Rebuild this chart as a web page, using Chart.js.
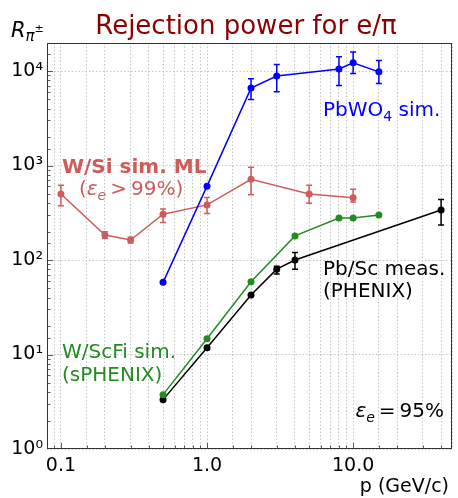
<!DOCTYPE html>
<html>
<head>
<meta charset="utf-8">
<script src="https://cdn.jsdelivr.net/npm/chart.js@4/dist/chart.umd.min.js"></script>
<style>
  body { margin: 0; background: #fff; }
  canvas { display: block; }
</style>
</head>
<body>
<canvas id="myChart" width="458" height="498"></canvas>
<script>
// PbWO4 sim.
const pbwo4X = [0.5, 1, 2, 3, 8, 10, 15];
const pbwo4Y = [58, 605, 6600, 8850, 10500, 12200, 9800];
const pbwo4Lo = [null, null, 5000, 6050, 7050, 9400, 7400];
const pbwo4Hi = [null, null, 8300, 11700, 14200, 15900, 12900];

// W/Si sim. ML
const wsiX = [0.1, 0.2, 0.3, 0.5, 1, 2, 5, 10];
const wsiY = [500, 184, 163, 305, 383, 714, 500, 455];
const wsiLo = [376, 170, 151, 250, 311, 490, 400, 410];
const wsiHi = [620, 199, 174, 346, 460, 960, 620, 560];

// W/ScFi sim. (sPHENIX)
const scfiX = [0.5, 1, 2, 4, 8, 10, 15];
const scfiY = [3.76, 14.7, 59, 180, 278, 278, 299];

// Pb/Sc meas. (PHENIX)
const pbscX = [0.5, 1, 2, 3, 4, 40];
const pbscY = [3.33, 11.8, 42.6, 80, 100, 338];
const pbscLo = [null, null, null, 71, 80, 235];
const pbscHi = [null, null, null, 86, 120, 437];

const xTickLabels = {'0.1': '0.1', '1': '1.0', '10': '10.0'};
const yTickLabels = {'1': '10\u2070', '10': '10\u00b9', '100': '10\u00b2', '1000': '10\u00b3', '10000': '10\u2074'};

const FONT = "'DejaVu Sans', sans-serif";

function pts(xs, ys) {
  return xs.map((x, i) => ({x: x, y: ys[i]}));
}

function isDecade(v) {
  const l = Math.log10(v);
  return Math.abs(l - Math.round(l)) < 1e-9;
}

function series(label, xs, ys, color, lo, hi) {
  return {
    label: label,
    data: pts(xs, ys),
    showLine: true,
    borderColor: color,
    backgroundColor: color,
    borderWidth: 1.5,
    pointRadius: 3.5,
    pointBorderWidth: 0,
    errLo: lo,
    errHi: hi,
  };
}

// draw a run of text pieces (for the little math bits)
function richText(c, x, y, parts, color, align) {
  let w = 0;
  parts.forEach(p => { c.font = p[1]; w += c.measureText(p[0]).width; });
  let cx = align === 'right' ? x - w : (align === 'center' ? x - w / 2 : x);
  c.fillStyle = color;
  c.textAlign = 'left';
  c.textBaseline = 'alphabetic';
  parts.forEach(p => {
    c.font = p[1];
    c.fillText(p[0], cx, y + (p[2] || 0));
    cx += c.measureText(p[0]).width;
  });
}

const errorBars = {
  id: 'errorBars',
  afterDatasetsDraw(chart) {
    const c = chart.ctx;
    const xs = chart.scales.x, ys = chart.scales.y;
    chart.data.datasets.forEach(ds => {
      if (!ds.errLo) return;
      c.save();
      c.strokeStyle = ds.borderColor;
      c.lineWidth = 1.5;
      ds.data.forEach((p, i) => {
        if (ds.errLo[i] == null) return;
        const px = xs.getPixelForValue(p.x);
        const y1 = ys.getPixelForValue(ds.errLo[i]);
        const y2 = ys.getPixelForValue(ds.errHi[i]);
        c.beginPath();
        c.moveTo(px, y1); c.lineTo(px, y2);
        c.moveTo(px - 3, y1); c.lineTo(px + 3, y1);
        c.moveTo(px - 3, y2); c.lineTo(px + 3, y2);
        c.stroke();
      });
      c.restore();
    });
  }
};

const frameAndText = {
  id: 'frameAndText',
  afterDraw(chart) {
    const c = chart.ctx;
    const a = chart.chartArea;
    const xs = chart.scales.x, ys = chart.scales.y;
    c.save();
    // inward ticks
    c.strokeStyle = '#333';
    c.lineWidth = 0.8;
    xs.ticks.forEach(t => {
      if (t.value <= xs.min || t.value >= xs.max) return;
      const px = Math.round(xs.getPixelForValue(t.value)) + 0.5;
      const len = isDecade(t.value) ? 6 : 3.5;
      c.beginPath(); c.moveTo(px, a.bottom); c.lineTo(px, a.bottom - len); c.stroke();
    });
    ys.ticks.forEach(t => {
      if (t.value <= ys.min || t.value >= ys.max) return;
      const py = Math.round(ys.getPixelForValue(t.value)) + 0.5;
      const len = isDecade(t.value) ? 6 : 3.5;
      c.beginPath(); c.moveTo(a.left, py); c.lineTo(a.left + len, py); c.stroke();
    });
    // frame
    c.lineWidth = 1;
    c.strokeRect(a.left + 0.5, a.top + 0.5, a.right - a.left - 1, a.bottom - a.top - 1);

    // title and axis labels
    c.font = '26px ' + FONT;
    c.fillStyle = '#8b0000';
    c.textAlign = 'center';
    c.textBaseline = 'alphabetic';
    c.fillText('Rejection power for e/\u03c0', 246, 34);

    richText(c, 11, 37, [
      ['R', 'italic 21px ' + FONT],
      ['\u03c0', 'italic 15px ' + FONT, 4],
      ['\u00b1', '11px ' + FONT, -5],
    ], '#000', 'left');

    c.font = '19px ' + FONT;
    c.fillStyle = '#000';
    c.textAlign = 'right';
    c.fillText('p (GeV/c)', 449, 492);

    // annotations
    const f = '20px ' + FONT;
    const fi = 'italic 20px ' + FONT;
    const fs = 'italic 14px ' + FONT;
    const thin = '\u2009';
    richText(c, 323, 116, [['PbWO', f], ['4', '14px ' + FONT, 5], [' sim.', f]], '#0000ff', 'left');
    richText(c, 62, 173, [['W/Si sim. ML', 'bold 20px ' + FONT]], '#cd5c5c', 'left');
    richText(c, 79, 195, [['(', f], ['\u03b5', fi], ['e', fs, 5], [thin + '>' + thin, f], ['99%)', f]], '#cd5c5c', 'left');
    richText(c, 323, 275, [['Pb/Sc meas.', f]], '#000', 'left');
    richText(c, 323, 297, [['(PHENIX)', f]], '#000', 'left');
    richText(c, 62, 358, [['W/ScFi sim.', f]], '#228b22', 'left');
    richText(c, 62, 381, [['(sPHENIX)', f]], '#228b22', 'left');
    richText(c, 444, 417, [['\u03b5', fi], ['e', fs, 5], [thin + '=' + thin, f], ['95%', f]], '#000', 'right');
    c.restore();
  }
};

let chart;

function renderChart() {
  const ctx = document.getElementById('myChart');
  chart = new Chart(ctx, {
    type: 'scatter',
    data: {
      datasets: [
        series('PbWO4 sim.', pbwo4X, pbwo4Y, '#0000ff', pbwo4Lo, pbwo4Hi),
        series('W/Si sim. ML', wsiX, wsiY, '#cd5c5c', wsiLo, wsiHi),
        series('W/ScFi sim.', scfiX, scfiY, '#228b22'),
        series('Pb/Sc meas.', pbscX, pbscY, '#000000', pbscLo, pbscHi),
      ],
    },
    options: {
      responsive: false,
      animation: false,
      layout: { padding: { top: 43, right: 4, left: 0, bottom: 0 } },
      plugins: {
        legend: { display: false },
        tooltip: { enabled: false },
      },
      scales: {
        x: {
          type: 'logarithmic',
          min: 0.0803,
          max: 47.5,
          border: { display: false, dash: [1.5, 2] },
          grid: {
            drawTicks: false,
            color: '#b8b8b8',
            lineWidth: 0.8,
          },
          ticks: {
            autoSkip: false,
            maxRotation: 0,
            padding: 6,
            color: '#000',
            font: { family: FONT, size: 19 },
            callback: function (v) {
              for (const k in xTickLabels) {
                if (Math.abs(v - Number(k)) < 1e-9) return xTickLabels[k];
              }
              return '';
            },
          },
          afterFit: function (s) { s.height = 49; },
        },
        y: {
          type: 'logarithmic',
          min: 1,
          max: 19800,
          border: { display: false, dash: [1.5, 2] },
          grid: {
            drawTicks: false,
            lineWidth: 0.8,
            color: c => (c.tick && isDecade(c.tick.value) && c.tick.value < 19800) ? '#b8b8b8' : 'rgba(0,0,0,0)',
          },
          ticks: {
            autoSkip: false,
            padding: 4,
            color: '#000',
            font: { family: FONT, size: 19 },
            callback: function (v) {
              for (const k in yTickLabels) {
                if (Math.abs(v - Number(k)) < 1e-6) return yTickLabels[k];
              }
              return '';
            },
          },
          afterFit: function (s) { s.width = 47; },
        },
      },
      elements: { line: { tension: 0 } },
    },
    plugins: [errorBars, frameAndText],
  });
}

renderChart();
</script>
</body>
</html>
